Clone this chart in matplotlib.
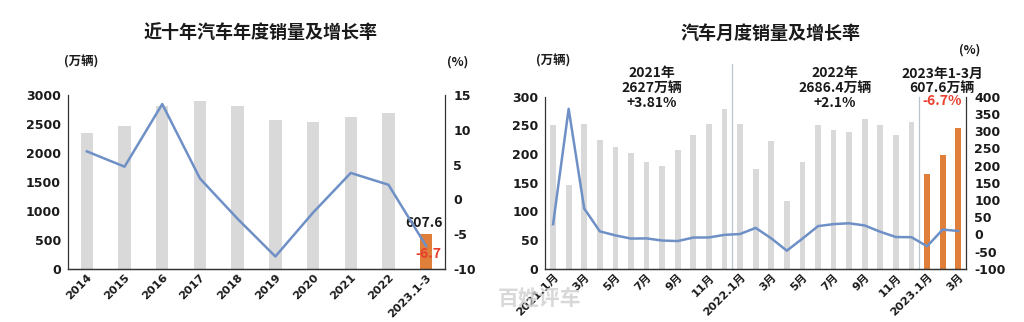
import matplotlib
matplotlib.use("Agg")
import matplotlib.pyplot as plt
import numpy as np

plt.rcParams['font.family'] = ['Noto Sans CJK SC', 'DejaVu Sans']
plt.rcParams['font.weight'] = 'bold'
plt.rcParams['axes.unicode_minus'] = False

# ---------------- data ----------------
years = ['2014', '2015', '2016', '2017', '2018', '2019', '2020', '2021', '2022', '2023.1-3']
annual_sales = [2349.2, 2459.8, 2802.8, 2887.9, 2808.1, 2576.9, 2531.1, 2627.5, 2686.4, 607.6]
annual_growth = [6.9, 4.7, 13.7, 3.0, -2.8, -8.2, -1.9, 3.8, 2.1, -6.7]

months = ['2021.1月', '2月', '3月', '4月', '5月', '6月', '7月', '8月', '9月', '10月', '11月', '12月',
          '2022.1月', '2月', '3月', '4月', '5月', '6月', '7月', '8月', '9月', '10月', '11月', '12月',
          '2023.1月', '2月', '3月']
monthly_sales = [250.3, 145.5, 252.6, 225.2, 212.8, 201.5, 186.4, 179.9, 207.1, 233.2, 252.2, 278.6,
                 253.1, 173.7, 223.4, 118.1, 186.2, 250.2, 242.0, 238.3, 261.0, 250.5, 232.5, 255.6,
                 164.9, 197.6, 245.1]
monthly_growth = [29.5, 364.9, 74.9, 8.6, -3.1, -12.4, -11.9, -18.1, -19.6, -9.4, -9.1, -1.6,
                  0.9, 18.7, -11.7, -47.6, -12.6, 23.8, 29.7, 32.1, 25.7, 7.4, -7.9, -8.4,
                  -34.8, 13.8, 9.7]

GRAY = '#d9d9d9'
ORANGE = '#e07f3a'
BLUE = '#6e90c6'
RED = '#e8402f'
SPINE = '#333333'
TXT = '#1a1a1a'
TICKFAM = ['DejaVu Sans', 'Noto Sans CJK SC']

fig = plt.figure(figsize=(10.24, 3.22), dpi=100)

def style(ax, twin):
    ax.spines['top'].set_visible(False)
    twin.spines['top'].set_visible(False)
    for a in (ax, twin):
        for s in ['left', 'right', 'bottom']:
            a.spines[s].set_color(SPINE)
            a.spines[s].set_linewidth(0.9)
        a.tick_params(length=0, colors=TXT)
    ax.tick_params(axis='y', pad=5)
    twin.tick_params(axis='y', pad=6)
    ax.tick_params(axis='x', pad=2.5)
    for lab in ax.get_yticklabels() + twin.get_yticklabels():
        lab.set_fontweight('bold')
        lab.set_fontsize(9)
        lab.set_family(TICKFAM)
    for lab in ax.get_xticklabels():
        lab.set_fontweight('bold')
        lab.set_fontsize(8.1)
        lab.set_family(TICKFAM)
    ax.spines['right'].set_visible(False)
    twin.spines['left'].set_visible(False)

# ---------------- left chart ----------------
ax1 = fig.add_axes([0.0664, 0.1646, 0.3682, 0.5404])
x1 = np.arange(len(years))
colors1 = [GRAY] * (len(years) - 1) + [ORANGE]
ax1.bar(x1, annual_sales, width=0.33, color=colors1, zorder=1)
ax1.set_xlim(-0.5, len(years) - 0.5)
ax1.set_ylim(0, 3000)
ax1.set_yticks([0, 500, 1000, 1500, 2000, 2500, 3000])
ax1.set_xticks(x1)
ax1.set_xticklabels(years, rotation=45, ha='right', rotation_mode='anchor')
t1 = ax1.twinx()
t1.plot(x1, annual_growth, color=BLUE, lw=1.8, zorder=3)
t1.set_ylim(-10, 15)
t1.set_yticks([-10, -5, 0, 5, 10, 15])
style(ax1, t1)
ax1.text(x1[-1] - 0.05, annual_sales[-1] + 70, '607.6', ha='center', va='bottom',
         fontsize=10, fontweight='bold', color=TXT)
t1.text(x1[-1] + 0.05, annual_growth[-1] - 1.2, '-6.7', ha='center', va='center',
        fontsize=10, fontweight='bold', color=RED)

fig.text(261 / 1024, 1 - 33 / 322, '近十年汽车年度销量及增长率', ha='center', va='center',
         fontsize=13, fontweight='bold', color=TXT)
fig.text(81 / 1024, 1 - 62 / 322, '(万辆)', ha='center', va='center', fontsize=9,
         fontweight='bold', color=TXT)
fig.text(458 / 1024, 1 - 62 / 322, '(%)', ha='center', va='center', fontsize=9,
         fontweight='bold', color=TXT)

# ---------------- right chart ----------------
ax2 = fig.add_axes([0.5325, 0.1655, 0.4109, 0.534])
x2 = np.arange(len(months))
colors2 = [GRAY] * 24 + [ORANGE] * 3
ax2.bar(x2, monthly_sales, width=0.37, color=colors2, zorder=1)
ax2.set_xlim(-0.5, len(months) - 0.5)
ax2.set_ylim(0, 300)
ax2.set_yticks([0, 50, 100, 150, 200, 250, 300])
ax2.set_xticks(x2[::2])
ax2.set_xticklabels(months[::2], rotation=45, ha='right', rotation_mode='anchor')
t2 = ax2.twinx()
t2.plot(x2, monthly_growth, color=BLUE, lw=1.8, zorder=3)
t2.set_ylim(-100, 400)
t2.set_yticks([-100, -50, 0, 50, 100, 150, 200, 250, 300, 350, 400])
style(ax2, t2)

# separators
ax2.plot([11.5, 11.5], [0, 357], color='#b9c6cc', lw=0.9, clip_on=False, zorder=0)
ax2.plot([23.5, 23.5], [0, 300], color='#b9c6cc', lw=0.9, clip_on=False, zorder=0)

fig.text(770 / 1024, 1 - 33 / 322, '汽车月度销量及增长率', ha='center', va='center',
         fontsize=13, fontweight='bold', color=TXT)
fig.text(553 / 1024, 1 - 61 / 322, '(万辆)', ha='center', va='center', fontsize=9,
         fontweight='bold', color=TXT)
fig.text(970 / 1024, 1 - 50 / 322, '(%)', ha='center', va='center', fontsize=9,
         fontweight='bold', color=TXT)

ann_fs = 10
fig.text(652 / 1024, 1 - 88 / 322, '2021年\n2627万辆\n+3.81%', ha='center', va='center',
         fontsize=ann_fs, fontweight='bold', color=TXT, linespacing=1.05)
fig.text(835 / 1024, 1 - 88 / 322, '2022年\n2686.4万辆\n+2.1%', ha='center', va='center',
         fontsize=ann_fs, fontweight='bold', color=TXT, linespacing=1.05)
fig.text(942 / 1024, 1 - 81 / 322, '2023年1-3月\n607.6万辆', ha='center', va='center',
         fontsize=ann_fs, fontweight='bold', color=TXT, linespacing=1.05)
fig.text(942 / 1024, 1 - 101 / 322, '-6.7%', ha='center', va='center',
         fontsize=ann_fs, fontweight='bold', color=RED)

# watermark
fig.text(540 / 1024, 1 - 298 / 322, '百姓评车', ha='center', va='center', fontsize=15,
         color='#cfcfcf', alpha=0.8, zorder=0)

fig.savefig('out.png', dpi=100)
